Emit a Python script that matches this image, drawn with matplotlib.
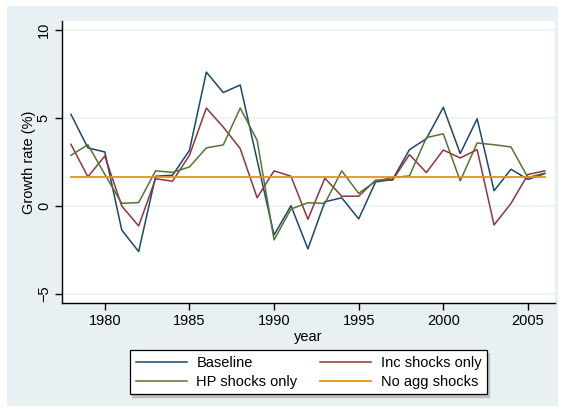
import matplotlib
matplotlib.use("Agg")
import matplotlib.pyplot as plt
from matplotlib.patches import Rectangle

plt.rcParams["font.family"] = ["Liberation Sans", "DejaVu Sans"]

# annual growth rates by simulation scenario
years = list(range(1978, 2007))
baseline = [5.2, 3.3, 3.07, -1.36, -2.58, 1.69, 1.75, 3.16, 7.6, 6.44, 6.87, 2.6, -1.64,
            0.02, -2.43, 0.24, 0.47, -0.73, 1.37, 1.5, 3.2, 3.82, 5.6, 2.98, 4.95, 0.87,
            2.09, 1.51, 1.84]
inc_only = [3.5, 1.66, 2.84, 0.0, -1.13, 1.55, 1.41, 2.88, 5.56, 4.48, 3.26, 0.47, 2.0,
            1.69, -0.75, 1.58, 0.56, 0.56, 1.47, 1.47, 2.92, 1.9, 3.18, 2.73, 3.2, -1.07,
            0.15, 1.79, 2.0]
hp_only = [2.88, 3.48, 1.8, 0.15, 0.2, 2.0, 1.91, 2.22, 3.3, 3.47, 5.56, 3.73, -1.92,
           -0.17, 0.19, 0.15, 2.0, 0.72, 1.41, 1.62, 1.71, 3.88, 4.1, 1.43, 3.58, 3.48,
           3.35, 1.62, 1.87]
no_agg = [1.66] * len(years)

yticks = [-5, 0, 5, 10]
xticks = [1980, 1985, 1990, 1995, 2000, 2005]

bg = "#e8f0f3"
fig = plt.figure(figsize=(5.62, 4.12), dpi=100, facecolor="white")
fig.patches.append(Rectangle((7 / 562, 6 / 412), 551 / 562, 400 / 412,
                             transform=fig.transFigure, facecolor=bg,
                             edgecolor="none", zorder=-10))

ax = fig.add_axes([62 / 562, 1 - 303 / 412, 493 / 562, 282 / 412])
ax.set_facecolor("white")

l1, = ax.plot(years, baseline, color="#1a476f", lw=1.1, label="Baseline")
l2, = ax.plot(years, inc_only, color="#90353b", lw=1.1, label="Inc shocks only")
l3, = ax.plot(years, hp_only, color="#55752f", lw=1.1, label="HP shocks only")
l4, = ax.plot(years, no_agg, color="#e8901c", lw=1.3, label="No agg shocks")

ax.set_xlim(1977.47, 2006.6)
ax.set_ylim(-5.5, 10.5)
ax.set_xticks(xticks)
ax.set_yticks(yticks)
ax.set_yticklabels([str(t).replace("-", "\u2212") for t in yticks],
                   rotation=90, va="center")
ax.grid(axis="y", color="#eaf2f3", lw=1.2)
ax.set_axisbelow(True)
for s in ["top", "right"]:
    ax.spines[s].set_visible(False)
for s in ["left", "bottom"]:
    ax.spines[s].set_linewidth(1.0)
ax.tick_params(labelsize=10.5, length=5, width=1.0, pad=3)

ax.set_xlabel("year", fontsize=10.5, labelpad=1)
ax.set_ylabel("Growth rate (%)", fontsize=10.5, va="center")
ax.yaxis.set_label_coords(-0.066, 0.5)

leg = fig.legend([l1, l3, l2, l4],
                 ["Baseline", "HP shocks only", "Inc shocks only", "No agg shocks"],
                 ncol=2, loc="center", bbox_to_anchor=(0.549, 0.096),
                 fontsize=10.5, frameon=True, fancybox=False, handlelength=3.5,
                 handletextpad=0.65, columnspacing=1.55, labelspacing=0.3,
                 borderpad=0.4, framealpha=1,
                 shadow={"color": "0.75", "alpha": 1, "ox": 1.5, "oy": -1.5})
leg.get_frame().set_edgecolor("black")
leg.get_frame().set_linewidth(0.9)

fig.savefig("out.png", dpi=100, facecolor=fig.get_facecolor())
